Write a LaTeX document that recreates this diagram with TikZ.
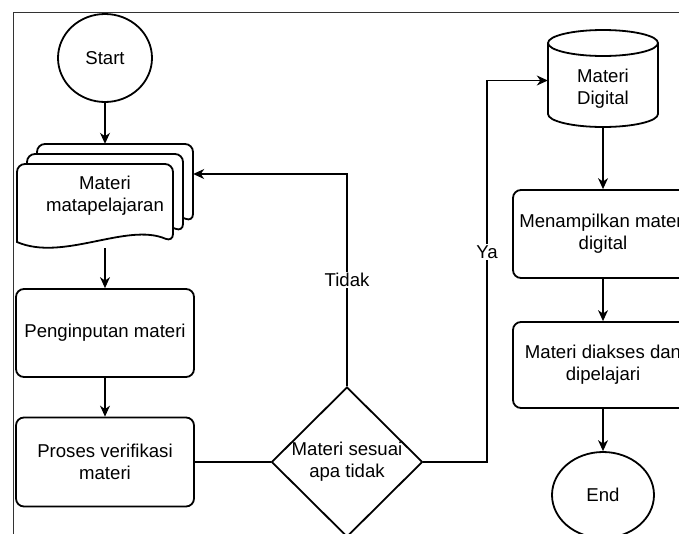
\documentclass[tikz,border=0pt]{standalone}
\usepackage{fontspec}
\setmainfont{Liberation Sans}
\usetikzlibrary{shapes.geometric, arrows.meta}

\begin{document}
\begin{tikzpicture}[x=1pt, y=-1pt,
		every node/.style={font=\fontsize{18.6}{22}\selectfont, align=center, inner sep=0pt},
		shp/.style={line width=1.8pt},
		box/.style={shp, draw, rounded corners=8pt, fill=white},
		arr/.style={line width=1.1pt, -{Stealth[length=11pt, width=10pt, inset=3.5pt]}},
		lbl/.style={fill=white, inner sep=1.5pt}]
	\useasboundingbox (0,0) rectangle (679,533);
	\fill[white] (0,0) rectangle (679,533);
	\clip (0,0) rectangle (679,533);
	\draw[line width=0.9pt, black!80] (13,12) rectangle (720,580);
	
	\node[shp, draw, ellipse, minimum width=94, minimum height=88] (start) at (105,58) {Start};
	
	% stack of sheets
	\foreach \x/\y in {37/144, 27/154, 17/164}
	{
		\draw[shp, fill=white, rounded corners=8pt] (\x, \y+78) -- (\x, \y) -- (\x+156, \y) -- (\x+156, \y+78)
			[sharp corners] .. controls (\x+110, \y+58) and (\x+46, \y+98) .. (\x, \y+78) -- cycle;
	}
	\node[minimum width=176, minimum height=104] (doc) at (105,196) {Materi\\matapelajaran};
	
	\node[box, minimum width=178, minimum height=88] (pen) at (105,333) {Penginputan materi};
	\node[box, minimum width=178, minimum height=89] (proses) at (105,462) {Proses verifikasi\\materi};
	\node[shp, draw, diamond, minimum width=151, minimum height=148] (dia) at (347,462) {Materi sesuai\\apa tidak};
	
	% cylinder
	\draw[shp, fill=white] (548,43) -- (548,114) arc[start angle=180, end angle=360, x radius=55pt, y radius=13pt] -- (658,43);
	\draw[shp] (603,43) ellipse [x radius=55pt, y radius=13pt];
	\node[minimum width=110, minimum height=97] (db) at (603,78.5) {};
	\node (dbtxt) at (603,89) {Materi\\Digital};
	
	\node[box, minimum width=180, minimum height=88] (tampil) at (603,234) {Menampilkan materi\\digital};
	\node[box, minimum width=180, minimum height=86] (akses) at (603,365) {Materi diakses dan\\dipelajari};
	\node[shp, draw, ellipse, minimum width=102, minimum height=86] (end) at (603,495) {End};
	
	\coordinate (yaturn) at (487,462);
	
	\draw[arr] (start) -- (doc);
	\draw[arr] (doc) -- (pen);
	\draw[arr] (pen) -- (proses);
	\draw[line width=1.1pt] (proses) -- (dia);
	\draw[arr] (dia.north) |- node[lbl, pos=0.25] (tidak) {Tidak} ([yshift=22pt]doc.east);
	\draw[arr] (dia.east) -- (yaturn) |- node[lbl, pos=0.275] (ya) {Ya} ([yshift=-2pt]db.west);
	\draw[arr] (db) -- (tampil);
	\draw[arr] (tampil) -- (akses);
	\draw[arr] (akses) -- (end);
\end{tikzpicture}
\end{document}
